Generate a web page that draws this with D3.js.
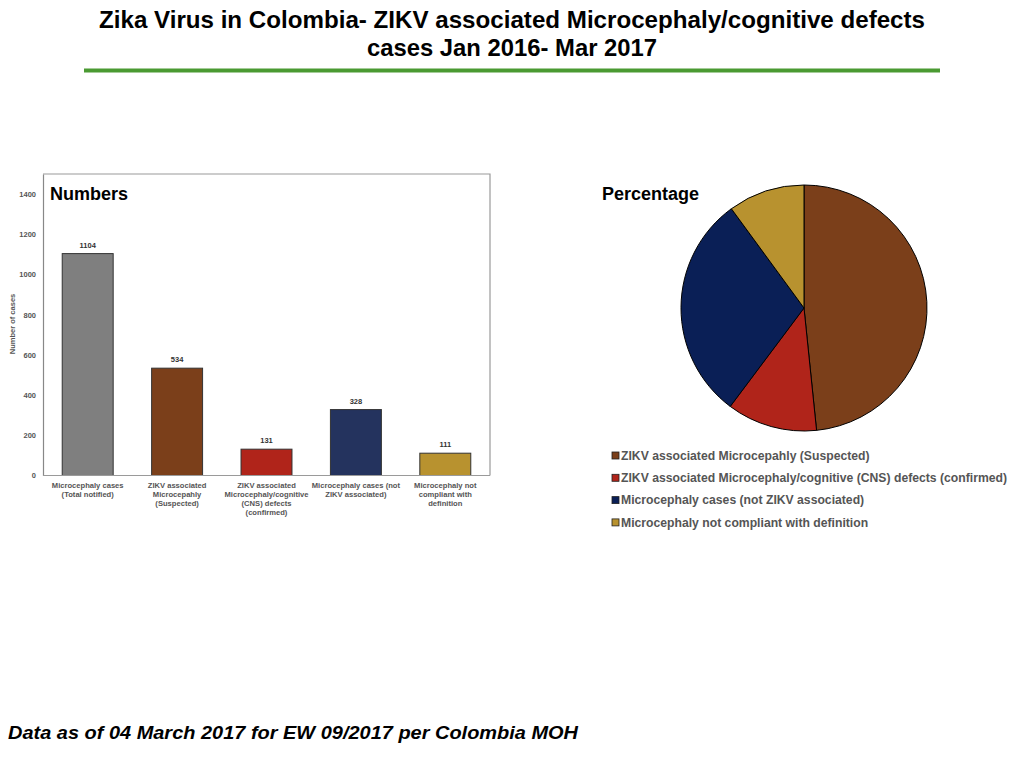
<!DOCTYPE html>
<html>
<head>
<meta charset="utf-8">
<script src="https://cdn.jsdelivr.net/npm/d3@7"></script>
<style>
  body { margin: 0; background: #fff; }
  svg { display: block; font-family: "Liberation Sans", Arial, sans-serif; }
</style>
</head>
<body>
<div id="chart"></div>
<script>
// Data
const barLabels = [
    ["Microcephaly cases", "(Total notified)"],
    ["ZIKV associated", "Microcepahly", "(Suspected)"],
    ["ZIKV associated", "Microcephaly/cognitive", "(CNS) defects", "(confirmed)"],
    ["Microcephaly cases (not", "ZIKV associated)"],
    ["Microcephaly not", "compliant with", "definition"]
];
const barValues = [1104, 534, 131, 328, 111];
const barColors = ["#7f7f7f", "#7b3f1a", "#b0241a", "#24335e", "#b8922f"];
const yTicks = [0, 200, 400, 600, 800, 1000, 1200, 1400];

const pieLabels = [
    "ZIKV associated Microcepahly (Suspected)",
    "ZIKV associated Microcephaly/cognitive (CNS) defects (confirmed)",
    "Microcephaly cases (not ZIKV associated)",
    "Microcephaly not compliant with definition"
];
const pieValues = [534, 131, 328, 111];
const pieColors = ["#7b3f1a", "#b0241a", "#0a1f56", "#b8922f"];

const W = 1024, H = 768;
const svg = d3.select("#chart").append("svg")
    .attr("width", W)
    .attr("height", H);

// Title
const title = svg.append("text")
    .attr("text-anchor", "middle")
    .attr("font-family", "'Liberation Sans Narrow', 'Liberation Sans', Arial, sans-serif")
    .attr("font-weight", "bold")
    .attr("font-size", 24)
    .attr("fill", "#000");
title.append("tspan").attr("x", 512).attr("y", 28)
    .attr("textLength", 826).attr("lengthAdjust", "spacingAndGlyphs")
    .text("Zika Virus in Colombia- ZIKV associated Microcephaly/cognitive defects");
title.append("tspan").attr("x", 512).attr("y", 56)
    .attr("textLength", 290).attr("lengthAdjust", "spacingAndGlyphs")
    .text("cases Jan 2016- Mar 2017");

svg.append("line")
    .attr("x1", 84).attr("x2", 940)
    .attr("y1", 70.5).attr("y2", 70.5)
    .attr("stroke", "#4a9a32")
    .attr("stroke-width", 4);

// Bar chart
const frame = {left: 43, right: 490, top: 174, bottom: 475.5};

const x = d3.scaleBand()
    .domain(d3.range(barValues.length))
    .range([frame.left, frame.right])
    .paddingInner(0.43)
    .paddingOuter(0.215);

const y = d3.scaleLinear()
    .domain([0, 1500])
    .range([frame.bottom, frame.top]);

// frame border (top / right)
svg.append("path")
    .attr("d", `M${frame.left},${frame.top}H${frame.right}V${frame.bottom}`)
    .attr("fill", "none")
    .attr("stroke", "#9a9a9a")
    .attr("stroke-width", 1.2);

svg.selectAll(".bar")
    .data(barValues)
    .enter()
    .append("rect")
    .attr("class", "bar")
    .attr("x", (d, i) => x(i))
    .attr("width", x.bandwidth())
    .attr("y", d => y(d))
    .attr("height", d => y(0) - y(d))
    .attr("fill", (d, i) => barColors[i])
    .attr("stroke", "#333")
    .attr("stroke-width", 1);

// Y axis
const yAxis = svg.append("g")
    .attr("transform", `translate(${frame.left},0)`)
    .call(d3.axisLeft(y).tickValues(yTicks).tickFormat(d3.format("d")).tickSize(0).tickPadding(7));
yAxis.select(".domain").attr("stroke", "#888").attr("stroke-width", 1.2);
yAxis.selectAll("text")
    .attr("font-family", "'Liberation Sans', Arial, sans-serif")
    .attr("font-size", 7.5)
    .attr("font-weight", "bold")
    .attr("fill", "#555");

// X axis line
svg.append("line")
    .attr("x1", frame.left).attr("x2", frame.right)
    .attr("y1", y(0)).attr("y2", y(0))
    .attr("stroke", "#9a9a9a")
    .attr("stroke-width", 1.2);

// Y axis label
svg.append("text")
    .attr("transform", `translate(15,324) rotate(-90)`)
    .attr("text-anchor", "middle")
    .attr("font-size", 7.5)
    .attr("font-weight", "bold")
    .attr("fill", "#555")
    .text("Number of cases");

// Value labels
svg.selectAll(".val")
    .data(barValues)
    .enter()
    .append("text")
    .attr("class", "val")
    .attr("x", (d, i) => x(i) + x.bandwidth() / 2)
    .attr("y", d => y(d) - 6)
    .attr("text-anchor", "middle")
    .attr("font-size", 7.5)
    .attr("font-weight", "bold")
    .attr("fill", "#333")
    .text(d => d);

// Category labels
const cat = svg.selectAll(".cat")
    .data(barLabels)
    .enter()
    .append("text")
    .attr("class", "cat")
    .attr("text-anchor", "middle")
    .attr("font-size", 7.6)
    .attr("font-weight", "bold")
    .attr("fill", "#555");
cat.each(function(lines, i) {
    const t = d3.select(this);
    lines.forEach((l, j) => {
        t.append("tspan")
            .attr("x", x(i) + x.bandwidth() / 2)
            .attr("y", 488 + j * 9)
            .text(l);
    });
});

svg.append("text")
    .attr("x", 50).attr("y", 200)
    .attr("font-size", 18)
    .attr("font-weight", "bold")
    .attr("fill", "#000")
    .text("Numbers");

// Pie chart
const pieCx = 804, pieCy = 308, pieR = 123;
const pie = d3.pie().sort(null).value(d => d);
const arc = d3.arc().innerRadius(0).outerRadius(pieR);

svg.append("g")
    .attr("transform", `translate(${pieCx},${pieCy})`)
    .selectAll("path")
    .data(pie(pieValues))
    .enter()
    .append("path")
    .attr("d", arc)
    .attr("fill", (d, i) => pieColors[i])
    .attr("stroke", "#000")
    .attr("stroke-width", 1);

svg.append("text")
    .attr("x", 602).attr("y", 200)
    .attr("font-size", 18)
    .attr("font-weight", "bold")
    .attr("fill", "#000")
    .text("Percentage");

// Legend
const legend = svg.selectAll(".leg")
    .data(pieLabels)
    .enter()
    .append("g")
    .attr("class", "leg")
    .attr("transform", (d, i) => `translate(612,${452 + i * 22.3})`);
legend.append("rect")
    .attr("width", 7).attr("height", 7)
    .attr("fill", (d, i) => pieColors[i])
    .attr("stroke", "#222")
    .attr("stroke-width", 0.8);
legend.append("text")
    .attr("x", 9).attr("y", 7.8)
    .attr("font-size", 12.2)
    .attr("font-weight", "bold")
    .attr("fill", "#555")
    .text(d => d);

// Footer
svg.append("text")
    .attr("x", 8).attr("y", 739)
    .attr("font-size", 19)
    .attr("font-weight", "bold")
    .attr("font-style", "italic")
    .attr("fill", "#000")
    .attr("textLength", 570)
    .attr("lengthAdjust", "spacingAndGlyphs")
    .text("Data as of 04 March 2017 for EW 09/2017 per Colombia MOH");
</script>
</body>
</html>
